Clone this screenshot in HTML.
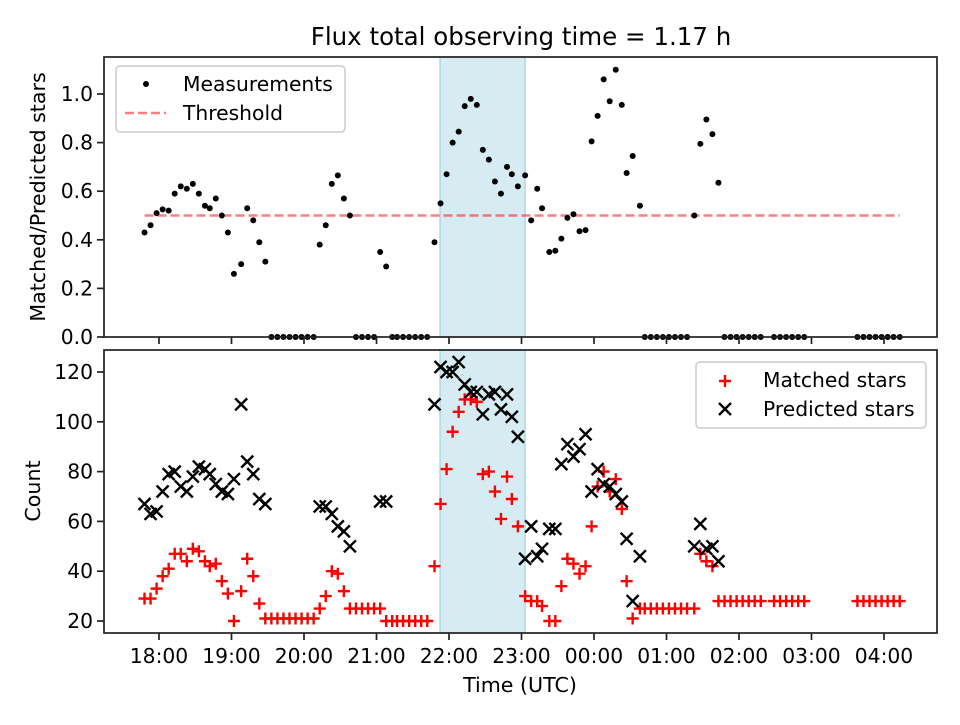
<!DOCTYPE html>
<html><head><meta charset="utf-8"><style>
body{margin:0;background:#fff}
svg{font-family:"DejaVu Sans","Liberation Sans",sans-serif}
</style></head><body>
<svg id="c" width="960" height="720" viewBox="0 0 960 720" xmlns="http://www.w3.org/2000/svg">
<rect width="960" height="720" fill="#fff"/>
<text x="521" y="45" font-size="24.5" text-anchor="middle">Flux total observing time = 1.17 h</text>
<text transform="translate(45,197) rotate(-90)" font-size="20.6" text-anchor="middle">Matched/Predicted stars</text>
<text transform="translate(40,491) rotate(-90)" font-size="20.6" text-anchor="middle">Count</text>
<text x="520" y="692" font-size="20.6" text-anchor="middle">Time (UTC)</text>
</svg>
<script>
const times=[-12,-7,-2,3,8,13,18,23,28,33,38,42,47,52,57,62,68,73,78,83,88,93,98,103,108,113,118,123,128,133,138,143,148,153,158,163,168,173,178,183,188,193,197,202,207,212,217,222,228,233,238,243,248,253,258,263,268,273,278,283,288,292,297,303,308,313,317,323,328,333,338,343,348,353,358,363,368,373,378,383,387,392,398,402,407,412,417,422,427,432,437,443,448,453,458,463,468,473,478,483,488,493,498,509,514,519,524,529,534,578,583,588,593,598,603,608,613];
const ratio=[0.43,0.46,0.51,0.525,0.52,0.59,0.62,0.61,0.63,0.59,0.54,0.53,0.57,0.50,0.43,0.26,0.30,0.53,0.48,0.39,0.31,0,0,0,0,0,0,0,0,0.38,0.46,0.63,0.665,0.57,0.50,0,0,0,0,0.35,0.29,0,0,0,0,0,0,0,0.39,0.55,0.67,0.80,0.845,0.95,0.98,0.955,0.77,0.73,0.64,0.59,0.70,0.67,0.62,0.665,0.48,0.61,0.53,0.35,0.355,0.405,0.49,0.505,0.435,0.44,0.805,0.91,1.06,0.97,1.10,0.955,0.675,0.745,0.54,0,0,0,0,0,0,0,0,0.50,0.795,0.895,0.835,0.635,0,0,0,0,0,0,0,0,0,0,0,0,0,0,0,0,0,0,0,0,0];
const matched=[29,29,33,38,41,47,47,44,49,48,44,42,43,36,31,20,32,45,38,27,21,21,21,21,21,21,21,21,21,25,30,40,39,32,25,25,25,25,25,25,20,20,20,20,20,20,20,20,42,67,81,96,104,109,109,108,79,80,72,61,78,69,58,30,28,28,26,20,20,34,45,43,39,42,58,74,80,72,77,65,36,21,25,25,25,25,25,25,25,25,25,25,47,44,42,28,28,28,28,28,28,28,28,28,28,28,28,28,28,28,28,28,28,28,28,28,28];
const N=null;
const predicted=[67,63,64,72,79,80,74,72,78,82,81,79,75,72,71,77,107,84,79,69,67,N,N,N,N,N,N,N,N,66,66,63,58,56,50,N,N,N,N,68,68,N,N,N,N,N,N,N,107,122,120,120,124,115,112,112,103,111,112,105,111,102,94,45,58,46,49,57,57,83,91,86,89,95,72,81,75,74,71,68,53,28,46,N,N,N,N,N,N,N,N,50,59,49,50,44,N,N,N,N,N,N,N,N,N,N,N,N,N,N,N,N,N,N,N,N,N];
const xTicks=[0,60,120,180,240,300,360,420,480,540,600];
const xTickLabels=["18:00","19:00","20:00","21:00","22:00","23:00","00:00","01:00","02:00","03:00","04:00"];
const topYTicks=[0,0.2,0.4,0.6,0.8,1.0];
const botYTicks=[20,40,60,80,100,120];
const threshold=0.5, thrStart=-12, thrEnd=613;
const shadeStart=232.6, shadeEnd=302.9;

const svg=document.getElementById('c');
const NS='http://www.w3.org/2000/svg';
const xs=m=>159+m*72.5/60;
const yt=r=>337-r*243;
const yb=c=>621-(c-20)*2.49;
function mk(t,a,parent){const e=document.createElementNS(NS,t);for(const k in a)e.setAttribute(k,a[k]);(parent||svg).appendChild(e);return e;}
const FS=20.3;

[[57,337,'top'],[350,633,'bottom']].forEach(([y0,y1,nm])=>{
  const s=mk('rect',{x:xs(shadeStart),y:y0,width:xs(shadeEnd)-xs(shadeStart),height:y1-y0,fill:'#add8e6','fill-opacity':0.5,stroke:'#add8e6','stroke-width':1.5});
  
  
});
const th=mk('line',{x1:xs(thrStart),x2:xs(thrEnd),y1:yt(threshold),y2:yt(threshold),stroke:'#ff0000','stroke-opacity':0.5,'stroke-width':2.5,'stroke-dasharray':'9,4'});


times.forEach((t,i)=>{
  const d=mk('circle',{cx:xs(t),cy:yt(ratio[i]),r:3,fill:'#000'});
  
  
});
times.forEach((t,i)=>{
  const x=xs(t),y=yb(matched[i]);
  const p=mk('path',{d:`M${x-6},${y}H${x+6}M${x},${y-6}V${y+6}`,stroke:'#ff0000','stroke-width':2.4,fill:'none'});
  
  
});
times.forEach((t,i)=>{
  if(predicted[i]===null)return;
  const x=xs(t),y=yb(predicted[i]);
  const p=mk('path',{d:`M${x-6},${y-6}L${x+6},${y+6}M${x-6},${y+6}L${x+6},${y-6}`,stroke:'#000','stroke-width':2.4,fill:'none'});
  
  
});
[[57,337],[350,633]].forEach(([y0,y1],k)=>{
  const f=mk('rect',{x:104,y:y0,width:833,height:y1-y0,fill:'none',stroke:'#222','stroke-width':1.7});
  
  
  xTicks.forEach((m,i)=>{
    mk('line',{x1:xs(m),x2:xs(m),y1:y1,y2:y1+7,stroke:'#222','stroke-width':1.7});
    if(k){const tx=mk('text',{x:xs(m),y:y1+30,'font-size':FS,'text-anchor':'middle'});tx.textContent=xTickLabels[i];
      
      }
  });
});
topYTicks.forEach(v=>{
  mk('line',{x1:97,x2:104,y1:yt(v),y2:yt(v),stroke:'#222','stroke-width':1.7});
  const tx=mk('text',{x:93,y:yt(v)+7,'font-size':FS,'text-anchor':'end'});tx.textContent=v.toFixed(1);
  
  
});
botYTicks.forEach(v=>{
  mk('line',{x1:97,x2:104,y1:yb(v),y2:yb(v),stroke:'#222','stroke-width':1.7});
  const tx=mk('text',{x:93,y:yb(v)+7,'font-size':FS,'text-anchor':'end'});tx.textContent=v;
  
  
});
const l1=mk('g',{});


mk('rect',{x:116,y:66,width:229,height:66,rx:4,fill:'#fff','fill-opacity':0.8,stroke:'#ccc','stroke-width':1.5},l1);
mk('circle',{cx:146,cy:84,r:3,fill:'#000'},l1);
let t1=mk('text',{x:183,y:91,'font-size':FS},l1);t1.textContent='Measurements';
mk('line',{x1:125,x2:166,y1:113,y2:113,stroke:'#ff0000','stroke-opacity':0.5,'stroke-width':2.5,'stroke-dasharray':'9,4'},l1);
let t2=mk('text',{x:183,y:120,'font-size':FS},l1);t2.textContent='Threshold';
const l2=mk('g',{});


mk('rect',{x:696,y:362,width:230,height:66,rx:4,fill:'#fff','fill-opacity':0.8,stroke:'#ccc','stroke-width':1.5},l2);
mk('path',{d:'M719,381H731M725,375V387',stroke:'#ff0000','stroke-width':2.4},l2);
let t3=mk('text',{x:763,y:387,'font-size':FS},l2);t3.textContent='Matched stars';
mk('path',{d:'M719,403L731,415M719,415L731,403',stroke:'#000','stroke-width':2.4},l2);
let t4=mk('text',{x:763,y:416,'font-size':FS},l2);t4.textContent='Predicted stars';
</script>
</body></html>
